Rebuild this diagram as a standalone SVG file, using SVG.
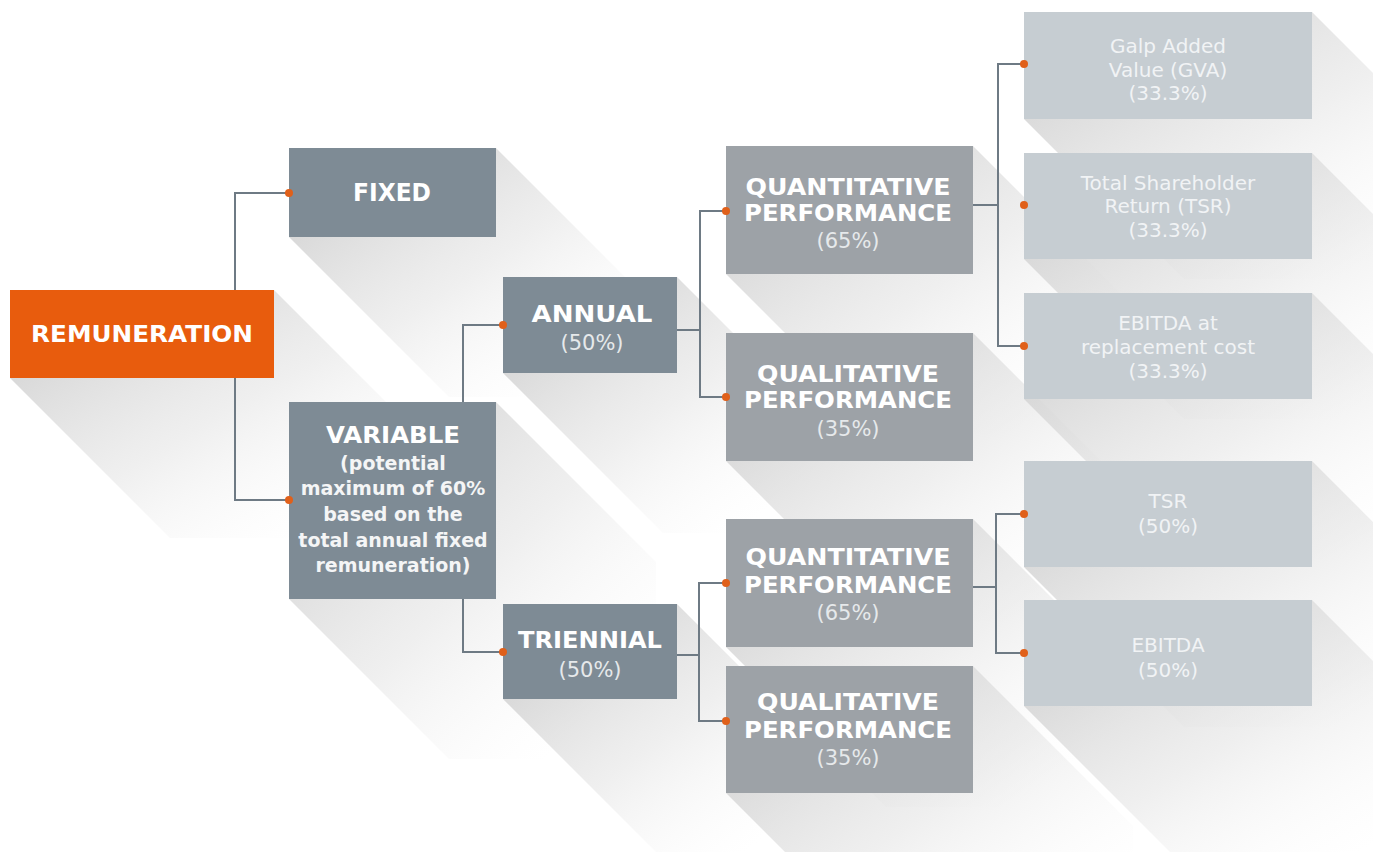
<svg xmlns="http://www.w3.org/2000/svg" width="1373" height="852" viewBox="0 0 1373 852">
<defs>
<linearGradient id="sh" x1="0" y1="0" x2="1" y2="1">
<stop offset="0.15" stop-color="#d4d4d4" stop-opacity="0.95"/>
<stop offset="0.5" stop-color="#e2e2e2" stop-opacity="0.55"/>
<stop offset="0.85" stop-color="#f4f4f4" stop-opacity="0"/>
</linearGradient>
<style>
.shadow{fill:url(#sh)}
.orange{fill:#e85c0d}
.dark{fill:#7e8b95}
.mid{fill:#9da2a7}
.light{fill:#c6cdd2}
.t{font-family:"DejaVu Sans","Liberation Sans",sans-serif;font-weight:bold;fill:#ffffff;text-anchor:middle}
.sub{font-family:"DejaVu Sans","Liberation Sans",sans-serif;font-weight:bold;fill:#f4f5f6;text-anchor:middle;font-size:19px}
.p{font-family:"DejaVu Sans","Liberation Sans",sans-serif;font-weight:normal;fill:#e6e9eb;text-anchor:middle;font-size:21px}
.r{font-family:"DejaVu Sans","Liberation Sans",sans-serif;font-weight:normal;fill:#f1f3f5;text-anchor:middle;font-size:20px}
.line{fill:none;stroke:#6e7a84;stroke-width:2}
.dot{fill:#e0601a}
</style>
</defs>
<rect width="1373" height="852" fill="#ffffff"/>
<g id="shadows">
<polygon class="shadow" points="274,290 434,450 434,538 170,538 10,378 274,378"/>
<polygon class="shadow" points="496,148 656,308 656,397 449,397 289,237 496,237"/>
<polygon class="shadow" points="496,402 656,562 656,759 449,759 289,599 496,599"/>
<polygon class="shadow" points="677,277 837,437 837,533 663,533 503,373 677,373"/>
<polygon class="shadow" points="677,604 837,764 837,859 663,859 503,699 677,699"/>
<polygon class="shadow" points="973,146 1133,306 1133,434 886,434 726,274 973,274"/>
<polygon class="shadow" points="973,333 1133,493 1133,621 886,621 726,461 973,461"/>
<polygon class="shadow" points="973,519 1133,679 1133,807 886,807 726,647 973,647"/>
<polygon class="shadow" points="973,666 1133,826 1133,953 886,953 726,793 973,793"/>
<polygon class="shadow" points="1312,12 1472,172 1472,279 1184,279 1024,119 1312,119"/>
<polygon class="shadow" points="1312,153 1472,313 1472,419 1184,419 1024,259 1312,259"/>
<polygon class="shadow" points="1312,293 1472,453 1472,559 1184,559 1024,399 1312,399"/>
<polygon class="shadow" points="1312,461 1472,621 1472,727 1184,727 1024,567 1312,567"/>
<polygon class="shadow" points="1312,600 1472,760 1472,866 1184,866 1024,706 1312,706"/>
</g>
<g id="node-remuneration">
<rect class="orange" x="10" y="290" width="264" height="88"/>
<text class="t" x="142" y="342" font-size="23" textLength="222" lengthAdjust="spacingAndGlyphs">REMUNERATION</text>
</g>
<g id="node-fixed">
<rect class="dark" x="289" y="148" width="207" height="89"/>
<text class="t" x="392" y="201" font-size="24" textLength="78" lengthAdjust="spacingAndGlyphs">FIXED</text>
</g>
<g id="node-variable">
<rect class="dark" x="289" y="402" width="207" height="197"/>
<text class="t" x="393" y="443" font-size="23" textLength="134" lengthAdjust="spacingAndGlyphs">VARIABLE</text>
<text class="sub" x="393" y="470">(potential</text>
<text class="sub" x="393" y="495">maximum of 60%</text>
<text class="sub" x="393" y="521">based on the</text>
<text class="sub" x="393" y="547">total annual fixed</text>
<text class="sub" x="393" y="572">remuneration)</text>
</g>
<g id="node-annual">
<rect class="dark" x="503" y="277" width="174" height="96"/>
<text class="t" x="592" y="322" font-size="23" textLength="121" lengthAdjust="spacingAndGlyphs">ANNUAL</text>
<text class="p" x="592" y="350">(50%)</text>
</g>
<g id="node-triennial">
<rect class="dark" x="503" y="604" width="174" height="95"/>
<text class="t" x="590" y="648" font-size="23" textLength="144" lengthAdjust="spacingAndGlyphs">TRIENNIAL</text>
<text class="p" x="590" y="677">(50%)</text>
</g>
<g id="node-quant-annual">
<rect class="mid" x="726" y="146" width="247" height="128"/>
<text class="t" x="848" y="195" font-size="23" textLength="205" lengthAdjust="spacingAndGlyphs">QUANTITATIVE</text>
<text class="t" x="848" y="221" font-size="23" textLength="208" lengthAdjust="spacingAndGlyphs">PERFORMANCE</text>
<text class="p" x="848" y="248">(65%)</text>
</g>
<g id="node-qual-annual">
<rect class="mid" x="726" y="333" width="247" height="128"/>
<text class="t" x="848" y="382" font-size="23" textLength="182" lengthAdjust="spacingAndGlyphs">QUALITATIVE</text>
<text class="t" x="848" y="408" font-size="23" textLength="208" lengthAdjust="spacingAndGlyphs">PERFORMANCE</text>
<text class="p" x="848" y="436">(35%)</text>
</g>
<g id="node-quant-triennial">
<rect class="mid" x="726" y="519" width="247" height="128"/>
<text class="t" x="848" y="565" font-size="23" textLength="205" lengthAdjust="spacingAndGlyphs">QUANTITATIVE</text>
<text class="t" x="848" y="593" font-size="23" textLength="208" lengthAdjust="spacingAndGlyphs">PERFORMANCE</text>
<text class="p" x="848" y="620">(65%)</text>
</g>
<g id="node-qual-triennial">
<rect class="mid" x="726" y="666" width="247" height="127"/>
<text class="t" x="848" y="710" font-size="23" textLength="182" lengthAdjust="spacingAndGlyphs">QUALITATIVE</text>
<text class="t" x="848" y="738" font-size="23" textLength="208" lengthAdjust="spacingAndGlyphs">PERFORMANCE</text>
<text class="p" x="848" y="765">(35%)</text>
</g>
<g id="node-gva">
<rect class="light" x="1024" y="12" width="288" height="107"/>
<text class="r" x="1168" y="53">Galp Added</text>
<text class="r" x="1168" y="77">Value (GVA)</text>
<text class="r" x="1168" y="100">(33.3%)</text>
</g>
<g id="node-tsr">
<rect class="light" x="1024" y="153" width="288" height="106"/>
<text class="r" x="1168" y="190">Total Shareholder</text>
<text class="r" x="1168" y="213">Return (TSR)</text>
<text class="r" x="1168" y="237">(33.3%)</text>
</g>
<g id="node-ebitda-rc">
<rect class="light" x="1024" y="293" width="288" height="106"/>
<text class="r" x="1168" y="330">EBITDA at</text>
<text class="r" x="1168" y="354">replacement cost</text>
<text class="r" x="1168" y="378">(33.3%)</text>
</g>
<g id="node-tsr2">
<rect class="light" x="1024" y="461" width="288" height="106"/>
<text class="r" x="1168" y="508">TSR</text>
<text class="r" x="1168" y="533">(50%)</text>
</g>
<g id="node-ebitda2">
<rect class="light" x="1024" y="600" width="288" height="106"/>
<text class="r" x="1168" y="652">EBITDA</text>
<text class="r" x="1168" y="677">(50%)</text>
</g>
<g id="connectors">
<path class="line" d="M289,193 H235 V290 M235,378 V500 H289"/>
<path class="line" d="M463,402 V325 H503 M463,599 V652 H503"/>
<path class="line" d="M677,330 H700 M726,211 H700 V397 H726"/>
<path class="line" d="M973,205 H998 M1024,64 H998 V346 H1024"/>
<path class="line" d="M677,655 H699 M726,583 H699 V721 H726"/>
<path class="line" d="M973,587 H996 M1024,514 H996 V653 H1024"/>
<circle class="dot" cx="289" cy="193" r="4"/>
<circle class="dot" cx="289" cy="500" r="4"/>
<circle class="dot" cx="503" cy="325" r="4"/>
<circle class="dot" cx="503" cy="652" r="4"/>
<circle class="dot" cx="726" cy="211" r="4"/>
<circle class="dot" cx="726" cy="397" r="4"/>
<circle class="dot" cx="726" cy="583" r="4"/>
<circle class="dot" cx="726" cy="721" r="4"/>
<circle class="dot" cx="1024" cy="64" r="4"/>
<circle class="dot" cx="1024" cy="205" r="4"/>
<circle class="dot" cx="1024" cy="346" r="4"/>
<circle class="dot" cx="1024" cy="514" r="4"/>
<circle class="dot" cx="1024" cy="653" r="4"/>
</g>
</svg>
